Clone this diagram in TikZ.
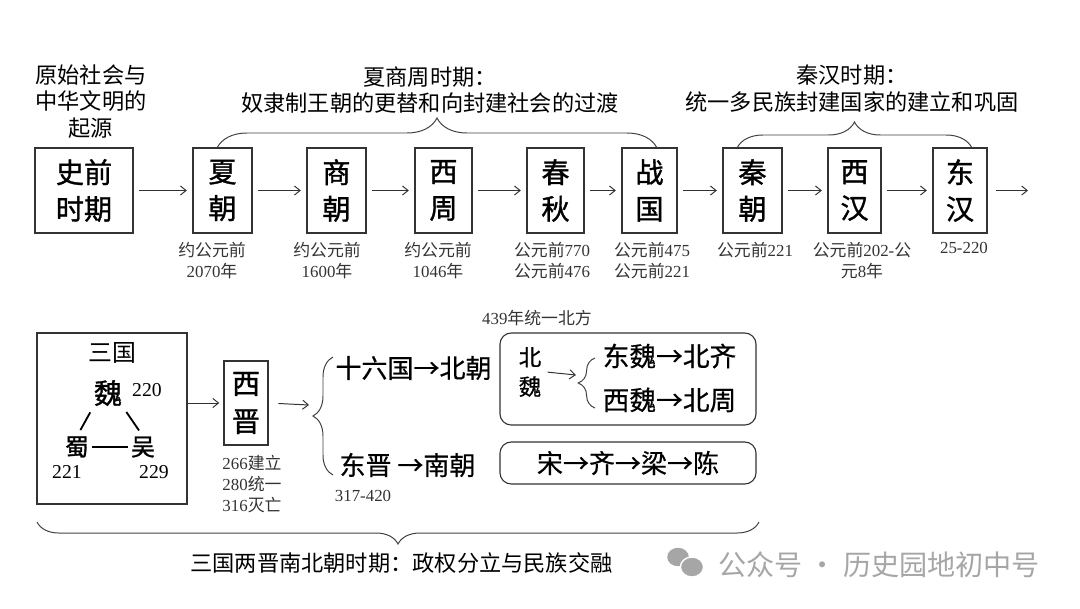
\documentclass[tikz,border=0pt]{standalone}
\usepackage{fontspec}
\setmainfont{Noto Sans CJK SC}
\newfontfamily\tnr{Liberation Serif}
\newfontfamily\boxfont[FakeBold=1.2]{Noto Sans CJK SC}
\newfontfamily\semibold[FakeBold=0.5]{Noto Sans CJK SC}
\usetikzlibrary{arrows.meta,decorations.pathreplacing}
\newcommand{\yr}[1]{{\tnr #1}}
\tikzset{dyn/.style={draw=black!80,line width=0.8pt,inner sep=0pt,align=center,minimum height=2.125cm,font=\boxfont\fontsize{20}{26}\selectfont},
  datelbl/.style={align=center,inner sep=0pt,text=black!80,font=\fontsize{12}{15}\selectfont},
  note/.style={align=center,font=\fontsize{15.8}{18.7}\selectfont},
  rowtxt/.style={font=\semibold\fontsize{18.5}{21}\selectfont},
  rbox/.style={draw=black!80,line width=0.8pt,rounded corners=8pt,minimum width=6.4cm},
  arr/.style={-{Straight Barb[length=4pt,width=6.5pt]},line width=0.7pt,black!80},
  brc/.style={decorate,line width=0.7pt,black!75}}
\begin{document}
\begin{tikzpicture}[x=0.025cm,y=-0.025cm]
\useasboundingbox (0,0) rectangle (1080,608);
\node[note] (origin) at (91,101.5) {原始社会与\\中华文明的\\起源};
\node[note] (xszlbl) at (430,90) {夏商周时期：\\奴隶制王朝的更替和向封建社会的过渡};
\node[note] (qhlbl) at (852,88.5) {秦汉时期：\\统一多民族封建国家的建立和巩固};
\draw[brc,decoration={brace,amplitude=0.75cm}] (217,148) -- (657,148);
\draw[brc,decoration={brace,amplitude=0.65cm}] (737,148) -- (972,148);
\node[dyn,minimum width=2.45cm] (pre) at (84,190.5) {史前\\时期};
\foreach \n/\x/\w/\t/\lx/\d in {xia/222.5/59/{夏\\朝}/212/{约公元前\\\yr{2070}年},
  shang/336.5/59/{商\\朝}/327/{约公元前\\\yr{1600}年},
  xizhou/443.5/57/{西\\周}/438/{约公元前\\\yr{1046}年},
  chunqiu/555.5/57/{春\\秋}/552/{公元前\yr{770}\\公元前\yr{476}},
  zhanguo/649.5/55/{战\\国}/652/{公元前\yr{475}\\公元前\yr{221}},
  qin/752.5/59/{秦\\朝}/755/{公元前\yr{221}},
  xihan/854.5/53/{西\\汉}/862/{公元前\yr{202-}公\\元\yr{8}年},
  donghan/960/54/{东\\汉}/964/{\yr{25-220}}}{
  \node[dyn,minimum width=\w*0.025cm] (\n) at (\x,190.5) {\t};
  \node[datelbl,anchor=north] (\n-d) at (\lx,242) {\d};
}
\foreach \a/\b in {pre/xia,xia/shang,shang/xizhou,xizhou/chunqiu,chunqiu/zhanguo,zhanguo/qin,qin/xihan,xihan/donghan}
  \draw[arr,shorten <=4pt,shorten >=4pt] (\a) -- (\b);
\coordinate (more) at (1028,190.5);
\draw[arr,shorten <=6pt] (donghan) -- (more);
% three kingdoms
\node[draw=black!80,line width=0.8pt,minimum width=3.75cm,minimum height=4.275cm] (sanguo) at (112,418.5) {};
\node[font=\fontsize{17}{20}\selectfont] (sgtitle) at (112,353) {三国};
\node[inner sep=0pt,font=\boxfont\fontsize{20}{20}\selectfont] (wei) at (108,393) {魏};
\node[inner sep=0pt,font=\boxfont\fontsize{17}{17}\selectfont] (shu) at (77,447) {蜀};
\node[inner sep=0pt,font=\boxfont\fontsize{17}{17}\selectfont] (wu) at (143,447) {吴};
\node[font=\tnr\fontsize{14}{14}\selectfont] (wei-y) at (147,390) {220};
\node[font=\tnr\fontsize{14}{14}\selectfont] (shu-y) at (67,472) {221};
\node[font=\tnr\fontsize{14}{14}\selectfont] (wu-y) at (154,472) {229};
\draw[line width=1.3pt,shorten <=5pt,shorten >=5pt] (wei.south west) -- (shu.north);
\draw[line width=1.3pt,shorten <=5pt,shorten >=5pt] (wei.south east) -- (wu.north);
\draw[line width=1.3pt,shorten <=2pt,shorten >=2pt] (shu.east) -- (wu.west);
\node[dyn,minimum width=1.1cm,minimum height=2.1cm,font=\boxfont\fontsize{20}{27}\selectfont] (jin) at (246,403) {西\\晋};
\draw[arr,shorten >=3pt] (sanguo.east |- jin.west) -- (jin.west);
\node[datelbl,anchor=north] (jin-d) at (252,454.5) {\yr{266}建立\\\yr{280}统一\\\yr{316}灭亡};
\coordinate (split) at (309,405);
\draw[arr,shorten <=7pt] (jin.east) -- (split);
\draw[brc,decoration={brace,amplitude=0.5cm}] (333,475) -- (333,357);
\node[rowtxt] (shiliu) at (413.5,368) {十六国→北朝};
\node[rowtxt] (dongjin) at (407.5,465) {东晋 →南朝};
\node[datelbl] (dongjin-d) at (363,496) {\yr{317-420}};
\node[datelbl] (tongyi) at (537,318) {\yr{439}年统一北方};
\node[rbox,minimum height=2.3cm] (bwbox) at (628,379) {};
\node[font=\semibold\fontsize{16}{21}\selectfont,align=center] (beiwei) at (530,372) {北\\魏};
\coordinate (bwsplit) at (576,375);
\draw[arr,shorten <=1pt] (beiwei.east) -- (bwsplit);
\draw[brc,decoration={brace,amplitude=0.42cm}] (595,408) -- (595,358);
\node[font=\semibold\fontsize{19}{21}\selectfont] (dongwei) at (669.5,356) {东魏→北齐};
\node[font=\semibold\fontsize{19}{21}\selectfont] (xiwei) at (669.5,400) {西魏→北周};
\node[rbox,rowtxt,minimum height=1.05cm] (nanbox) at (628,463) {宋→齐→梁→陈};
\draw[brc,decoration={brace,amplitude=0.55cm}] (759,522) -- (37,522);
\node[note] (period) at (401.5,563) {三国两晋南北朝时期：政权分立与民族交融};
% watermark
\fill[black!35] (678,557) ellipse (0.27cm and 0.23cm);
\filldraw[fill=black!35,draw=white,line width=1pt] (692,567) ellipse (0.29cm and 0.25cm);
\node[text=black!35,font=\fontsize{20}{20}\selectfont] (wm) at (879,565) {公众号 · 历史园地初中号};
\end{tikzpicture}
\end{document}
